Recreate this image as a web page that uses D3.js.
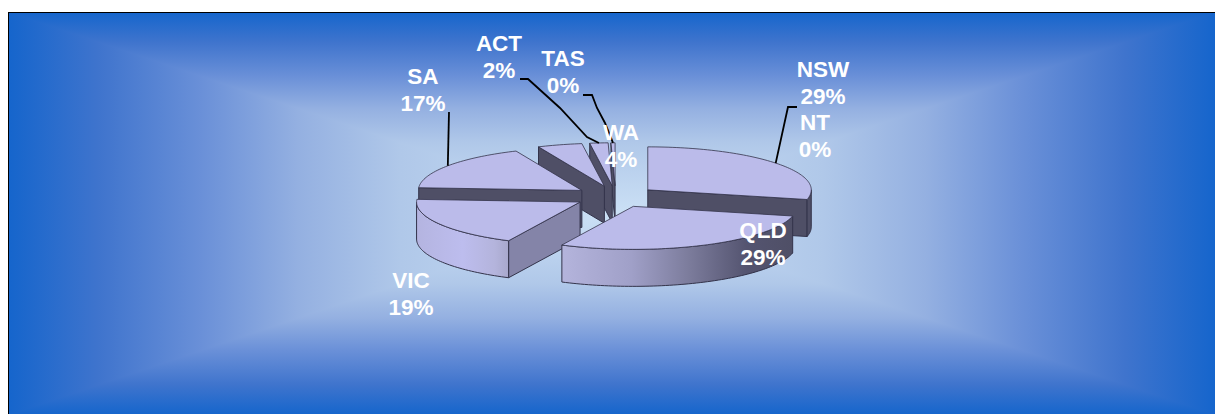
<!DOCTYPE html>
<html>
<head>
<meta charset="utf-8">
<title>Share by state</title>
<script src="https://cdnjs.cloudflare.com/ajax/libs/d3/7.8.5/d3.min.js"></script>
<style>
	html, body { margin: 0; padding: 0; background: #fff; overflow: hidden; }
	svg { display: block; }
	text { font-family: "Liberation Sans", Arial, sans-serif; font-weight: bold; font-size: 22.5px; fill: #fff; text-anchor: middle; }
</style>
</head>
<body>
<svg id="chart" width="1215" height="414"></svg>
<script>
	const states = ["NSW", "NT", "QLD", "VIC", "SA", "WA", "ACT", "TAS"];
	const shares = [28.6, 0, 28.6, 18.8, 17.4, 4.4, 1.8, 0.4];

	const svg = d3.select("#chart");
	const defs = svg.append("defs");

	// background: rectangular path gradient, one triangle per side
	const box = {x0: 8, y0: 12, x1: 1216, y1: 415, cx: 612, cy: 213};
	const bgStops = [[0, "#1565cc"], [0.15, "#3f74cd"], [0.32, "#6a90d8"], [0.48, "#94b0e1"], [0.65, "#b0c8e9"], [1, "#cbe0f5"]];

	const bgSides = [
		{id: "bgTop", pts: [[box.x0, box.y0], [box.x1, box.y0], [box.cx, box.cy]], from: [0, box.y0], to: [0, box.cy]},
		{id: "bgBottom", pts: [[box.x0, box.y1], [box.x1, box.y1], [box.cx, box.cy]], from: [0, box.y1], to: [0, box.cy]},
		{id: "bgLeft", pts: [[box.x0, box.y0], [box.x0, box.y1], [box.cx, box.cy]], from: [box.x0, 0], to: [box.cx, 0]},
		{id: "bgRight", pts: [[box.x1, box.y0], [box.x1, box.y1], [box.cx, box.cy]], from: [box.x1, 0], to: [box.cx, 0]}
	];

	function addGradient(id, from, to, stops) {
		const g = defs.append("linearGradient").attr("id", id).attr("gradientUnits", "userSpaceOnUse")
			.attr("x1", from[0]).attr("y1", from[1]).attr("x2", to[0]).attr("y2", to[1]);
		g.selectAll("stop").data(stops).join("stop")
			.attr("offset", d => d[0])
			.attr("stop-color", d => d[1]);
	}

	bgSides.forEach(s => {
		addGradient(s.id, s.from, s.to, bgStops);
		svg.append("polygon")
			.attr("points", s.pts.join(" "))
			.attr("fill", "url(#" + s.id + ")")
			.attr("shape-rendering", "crispEdges");
	});
	svg.append("rect").attr("x", box.x0 + 0.5).attr("y", box.y0 + 0.5)
		.attr("width", box.x1 - box.x0).attr("height", box.y1 - box.y0)
		.attr("fill", "none").attr("stroke", "#000").attr("stroke-width", 1);

	// pie, projected on an ellipse
	const radiusX = 163.5, radiusY = 43, depth = 37, explode = 0.2515;
	const pieCx = 615.6, pieCy = 196.6;
	const topFill = "#bbbbea", darkFill = "#4f4f66", midFill = "#8484a8", edge = "#33334a";

	const xScale = d3.scaleLinear().domain([-1, 1]).range([pieCx - radiusX, pieCx + radiusX]);
	const yScale = d3.scaleLinear().domain([-1, 1]).range([pieCy - radiusY, pieCy + radiusY]);
	const line = d3.line();

	const arcs = d3.pie().sort(null).value(d => d)(shares);

	const slices = states.map((name, i) => {
		const a0 = arcs[i].startAngle, a1 = arcs[i].endAngle, mid = (a0 + a1) / 2;
		return {name, i, a0, a1, mid, ox: explode * Math.sin(mid), oy: -explode * Math.cos(mid)};
	}).filter(d => d.a1 > d.a0);

	function rim(d, angle) {
		return [xScale(d.ox + Math.sin(angle)), yScale(d.oy - Math.cos(angle))];
	}
	function apex(d) {
		return [xScale(d.ox), yScale(d.oy)];
	}
	function rimPoints(d, a0, a1) {
		const n = Math.max(2, Math.ceil((a1 - a0) * 40));
		return d3.range(n + 1).map(k => rim(d, a0 + (a1 - a0) * k / n));
	}
	function drop(p) {
		return [p[0], p[1] + depth];
	}

	// outer wall gradients, keyed by state
	const wallStops = {
		NSW: [[0, darkFill], [1, darkFill]],
		QLD: [[0, "#b4b4dc"], [0.3, "#a0a0c8"], [0.55, "#7c7c9c"], [0.8, "#545470"], [1, darkFill]],
		VIC: [[0, "#b4b4e0"], [0.5, "#bdbdee"], [0.85, "#b4b4dc"], [1, "#a8a8cc"]]
	};
	const startWallFill = {VIC: midFill};

	// back to front
	const paintOrder = ["TAS", "ACT", "WA", "SA", "NSW", "VIC", "QLD"];
	const layer = svg.append("g");

	paintOrder.forEach(name => {
		const d = slices.find(s => s.name === name);
		const g = layer.append("g");
		const lo = Math.max(d.a0, Math.PI / 2), hi = Math.min(d.a1, 3 * Math.PI / 2);

		// flat walls along the cuts, only those facing the viewer
		if (Math.sin(d.a0) < 0) {
			const p = rim(d, d.a0), c = apex(d);
			g.append("path").attr("d", line([c, p, drop(p), drop(c)]) + "Z")
				.attr("fill", startWallFill[name] || darkFill).attr("stroke", edge).attr("stroke-width", 1);
		}
		if (Math.sin(d.a1) > 0) {
			const p = rim(d, d.a1), c = apex(d);
			g.append("path").attr("d", line([c, p, drop(p), drop(c)]) + "Z")
				.attr("fill", darkFill).attr("stroke", edge).attr("stroke-width", 1);
		}

		// curved outer wall
		if (hi > lo) {
			const pts = rimPoints(d, lo, hi);
			const xs = d3.extent(pts, p => p[0]);
			const id = "wall" + name;
			addGradient(id, [xs[0], 0], [xs[1], 0], wallStops[name]);
			g.append("path").attr("d", line(pts.concat(pts.map(drop).reverse())) + "Z")
				.attr("fill", "url(#" + id + ")").attr("stroke", edge).attr("stroke-width", 1);
		}

		// top face
		g.append("path").attr("d", line([apex(d)].concat(rimPoints(d, d.a0, d.a1))) + "Z")
			.attr("fill", topFill).attr("stroke", edge).attr("stroke-width", 0.8);
	});

	// label placement: first line centre, and leader elbows from the label side
	const labelPos = {
		NSW: [823, 77], NT: [815, 130], QLD: [763, 238], VIC: [411, 288],
		SA: [423, 84], WA: [621, 140], ACT: [499, 51], TAS: [563, 66]
	};
	const leaderElbows = {
		NSW: [[797, 107], [788, 107]],
		SA: [[449, 112]],
		ACT: [[520, 79], [528, 79], [560, 108], [587, 137]],
		TAS: [[583, 95], [592, 95], [597, 108], [605, 123]]
	};

	const leaders = svg.append("g");
	slices.filter(d => leaderElbows[d.name]).forEach(d => {
		const end = rim(d, d.mid);
		leaders.append("path")
			.attr("d", line(leaderElbows[d.name].concat([end])))
			.attr("fill", "none").attr("stroke", "#000").attr("stroke-width", 1.8);
	});

	const lineGap = 27;
	const labels = svg.append("g");
	states.forEach((name, i) => {
		const pos = labelPos[name];
		const t = labels.append("text").attr("x", pos[0]).attr("y", pos[1]);
		t.append("tspan").attr("x", pos[0]).text(name);
		t.append("tspan").attr("x", pos[0]).attr("dy", lineGap).text(Math.round(shares[i]) + "%");
	});
</script>
</body>
</html>
